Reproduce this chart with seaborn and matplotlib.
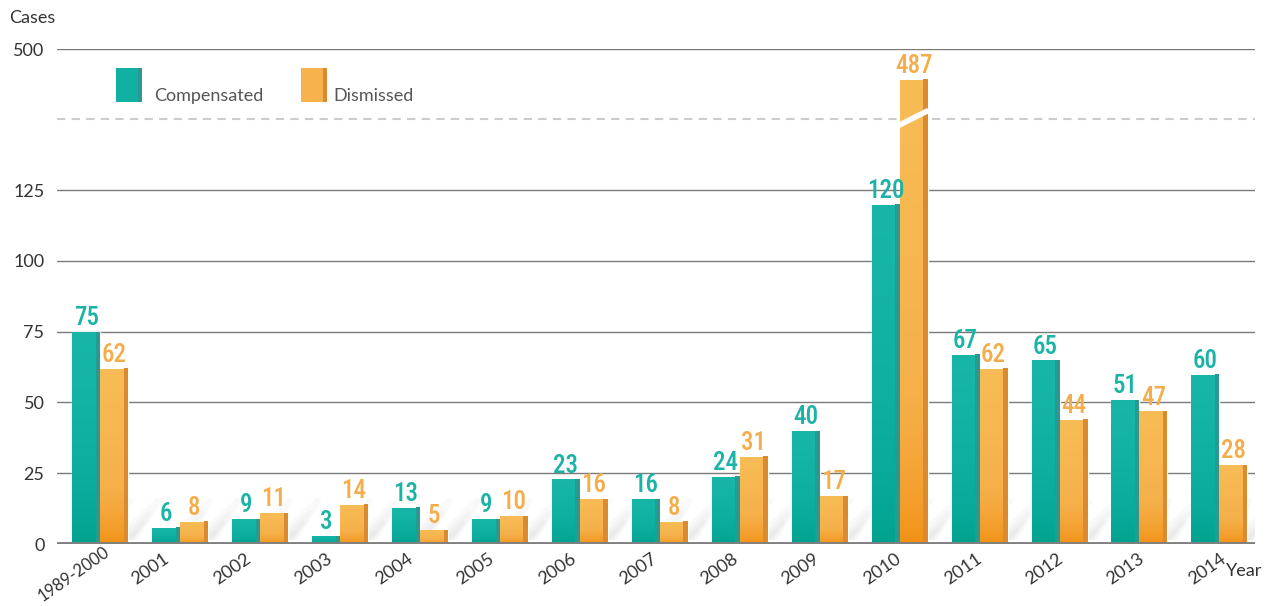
import numpy as np
import pandas as pd
import seaborn as sns
import matplotlib.pyplot as plt
import matplotlib.patches as mpatches
from matplotlib.colors import LinearSegmentedColormap
from matplotlib.transforms import ScaledTranslation

# ---- data ----
years = ['1989-2000', '2001', '2002', '2003', '2004', '2005', '2006', '2007',
         '2008', '2009', '2010', '2011', '2012', '2013', '2014']
compensated = [75, 6, 9, 3, 13, 9, 23, 16, 24, 40, 120, 67, 65, 51, 60]
dismissed = [62, 8, 11, 14, 5, 10, 16, 8, 31, 17, 487, 62, 44, 47, 28]
series_names = ['Compensated', 'Dismissed']
y_ticks = [0, 25, 50, 75, 100, 125, 500]

teal = '#11b0a2'
orange = '#f6b24c'
teal_side = '#2b9990'
orange_side = '#db8a30'
teal_txt = '#1ab3a6'
orange_txt = '#f5ad4c'
# gradient bottom -> top
teal_grad = ['#00a08c', '#0cad9f', '#17b6a9']
orange_grad = ['#f28e10', '#f5b04a', '#f8bc56']

df = pd.DataFrame({
    'year': years * 2,
    'cases': compensated + dismissed,
    'type': [series_names[0]] * len(years) + [series_names[1]] * len(years),
})

# broken axis: linear to 150, nearly flat to 470, then compressed up to 500
LOW, GAP_END, EPS, K = 150.0, 470.0, 0.001, 0.817


def fwd(v):
    v = np.asarray(v, dtype=float)
    mid = LOW + (np.clip(v, LOW, GAP_END) - LOW) * EPS
    out = np.where(v <= LOW, v, mid)
    out = np.where(v > GAP_END, LOW + (GAP_END - LOW) * EPS + (v - GAP_END) * K, out)
    return out


def inv(u):
    u = np.asarray(u, dtype=float)
    top = LOW + (GAP_END - LOW) * EPS
    out = np.where(u <= LOW, u, LOW + (u - LOW) / EPS)
    out = np.where(u > top, GAP_END + (u - top) / K, out)
    return out


sns.set_style('white')
plt.rcParams['font.family'] = ['Lato', 'DejaVu Sans']

fig = plt.figure(figsize=(12.75, 6.06), dpi=100)
ax = fig.add_axes([0.0447, 0.1023, 0.9393, 0.8167])

sns.barplot(data=df, x='year', y='cases', hue='type', palette=[teal, orange],
            width=0.7, saturation=1, legend=False, ax=ax, zorder=3)

ax.set_yscale('function', functions=(fwd, inv))
ax.set_ylim(0, 500)
ax.set_xlim(-0.54, 14.44)

# grid lines
for t in y_ticks[1:]:
    ax.axhline(t, color='#7a7a7a', lw=1.0, zorder=1)
ax.axhline(0, color='#808080', lw=3.5, zorder=5)
ax.axhline(LOW, color='#cccccc', lw=1.5, ls=(0, (4, 3)), zorder=1)

# gradient fill per bar + darker right side + soft diagonal shadow
grad = np.linspace(0, 1, 256).reshape(-1, 1) ** 0.6
side_colors = [teal_side, orange_side]
cmaps = [LinearSegmentedColormap.from_list('t', teal_grad),
         LinearSegmentedColormap.from_list('o', orange_grad)]
xt = ax.get_xaxis_transform()
px_x, px_y = 1 / 80.0, 1 / 495.0
for ci, cont in enumerate(ax.containers):
    for p in cont.patches:
        x, w, h = p.get_x(), p.get_width(), p.get_height()
        top_frac = ax.transAxes.inverted().transform(
            ax.transData.transform((x, h)))[1]
        im = ax.imshow(grad, cmap=cmaps[ci], aspect='auto', origin='lower',
                       extent=(x, x + w, 0, top_frac), zorder=3.5,
                       transform=xt, interpolation='bilinear')
        im.set_clip_path(p)
        sw = 0.055
        ax.add_patch(mpatches.Rectangle((x + w - sw, 0), sw, h,
                                        color=side_colors[ci], lw=0, zorder=4))
        for s in (1.0, 0.7, 0.45, 0.25):
            streak = [(0, 4), (0, 4 + 16 * s), (24 * s + 4, 40 * s + 6),
                      (30 * s + 4, 40 * s + 4), (10 * s, 4)]
            verts = [(x + w + a * px_x, b * px_y) for a, b in streak]
            ax.add_patch(mpatches.Polygon(verts, closed=True, transform=xt,
                                          color='#8a8a8a', alpha=0.045, lw=0,
                                          zorder=2))
ax.set_xlim(-0.54, 14.44)
ax.set_ylim(0, 500)

# value labels (condensed look)
num_font = ['Noto Sans Condensed', 'Roboto Condensed', 'Roboto', 'DejaVu Sans']
for cont, col in zip(ax.containers, [teal_txt, orange_txt]):
    ax.bar_label(cont, padding=1, color=col, fontsize=18, fontweight='medium',
                 family=num_font, fontstretch='condensed', zorder=6)

# break mark on the tall 2010 bar
b = ax.containers[1].patches[10]
x0, x1 = b.get_x() - 0.01, b.get_x() + b.get_width() + 0.01
ax.plot([x0, x1], [0.846, 0.876], transform=xt,
        color='white', lw=4, zorder=6, solid_capstyle='butt')

# axes styling
sns.despine(ax=ax, left=True, bottom=True, top=True, right=True)
ax.set_yticks(y_ticks)
ax.set_yticklabels([str(t) for t in y_ticks])
ax.tick_params(axis='y', length=0, pad=9, labelsize=13, labelcolor='#333333')
ax.tick_params(axis='x', length=0, pad=5, labelsize=13, labelcolor='#333333')
ax.set_xlabel('')
ax.set_ylabel('')
# year labels sit on a slightly wider pitch than the bars in the reference
for i, lab in enumerate(ax.get_xticklabels()):
    shift = 3 if i == 0 else -17 + 17 * (i - 1) / 13
    lift = 7 if i == 0 else 0
    lab.set_rotation(35)
    lab.set_ha('right')
    lab.set_va('top')
    lab.set_rotation_mode('anchor')
    if i == 0:
        lab.set_fontsize(12)
    lab.set_transform(lab.get_transform() +
                      ScaledTranslation(shift / 100, lift / 100, fig.dpi_scale_trans))

fig.text(9 / 1275, 1 - 18 / 606, 'Cases', fontsize=13, color='#333333', va='center')
fig.text(1226 / 1275, 1 - 571 / 606, 'Year', fontsize=13, color='#333333', va='center')

# legend drawn in figure pixels
W, H = 1275, 606
leg_items = [(116, series_names[0], teal, teal_side, 154),
             (301, series_names[1], orange, orange_side, 333)]
for lx, name, col, side, tx in leg_items:
    fig.patches.append(mpatches.Rectangle((lx / W, 1 - 102 / H), 22 / W, 34 / H,
                                          transform=fig.transFigure, color=col, lw=0))
    fig.patches.append(mpatches.Rectangle(((lx + 22) / W, 1 - 102 / H), 4 / W, 34 / H,
                                          transform=fig.transFigure, color=side, lw=0))
    fig.text(tx / W, 1 - 101 / H, name, fontsize=13, color='#555555', va='baseline')

fig.savefig('out.png', dpi=100)
